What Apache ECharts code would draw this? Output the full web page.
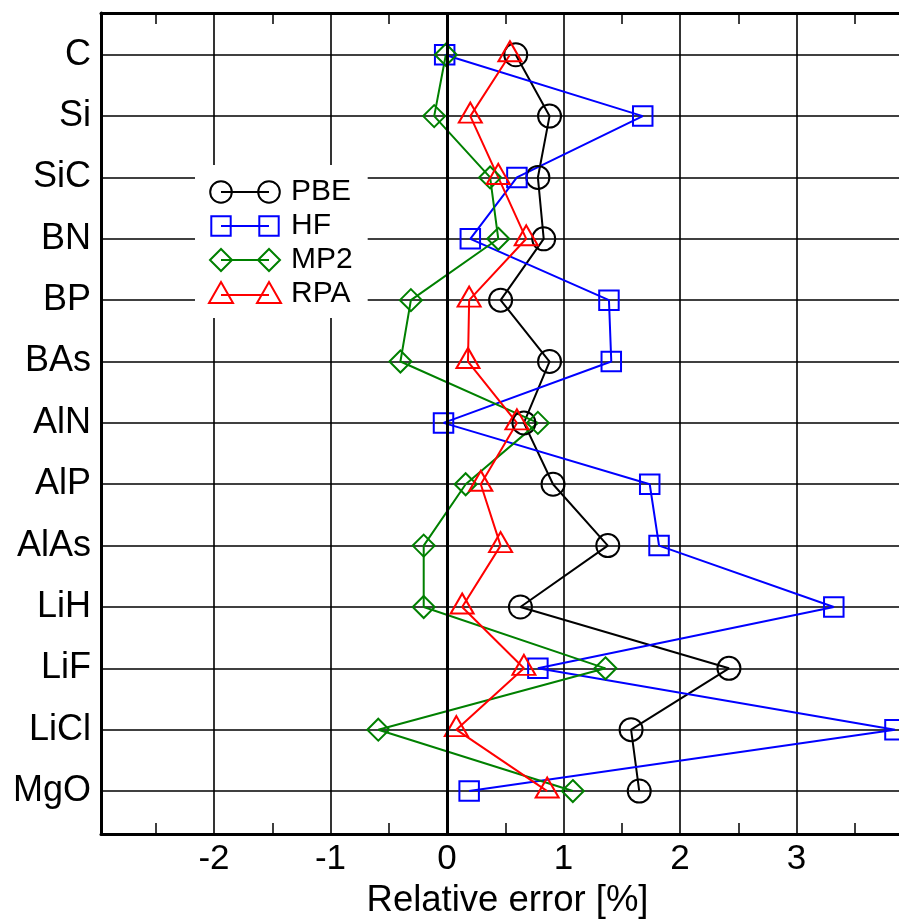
<!DOCTYPE html>
<html><head><meta charset="utf-8">
<script src="https://cdn.jsdelivr.net/npm/echarts@6/dist/echarts.min.js"></script>
<style>html,body{margin:0;padding:0;background:#fff}#c{width:899px;height:921px}</style>
</head><body><div id="c"></div>
<script>
// ---- data ----
const materials = ['C','Si','SiC','BN','BP','BAs','AlN','AlP','AlAs','LiH','LiF','LiCl','MgO'];
const pbe = [0.59, 0.88, 0.78, 0.83, 0.46, 0.88, 0.66, 0.91, 1.38, 0.63, 2.42, 1.58, 1.65];
const hf  = [-0.02, 1.68, 0.60, 0.20, 1.39, 1.41, -0.03, 1.74, 1.82, 3.32, 0.78, 3.845, 0.19];
const mp2 = [-0.01, -0.11, 0.37, 0.44, -0.31, -0.40, 0.78, 0.16, -0.20, -0.20, 1.36, -0.59, 1.08];
const rpa = [0.54, 0.20, 0.44, 0.68, 0.19, 0.18, 0.60, 0.29, 0.46, 0.13, 0.66, 0.08, 0.86];
const xTickLabels = [-2, -1, 0, 1, 2, 3];
const xMinorTicks = [-2.5, -1.5, -0.5, 0.5, 1.5, 2.5, 3.5];
const seriesNames = ['PBE', 'HF', 'MP2', 'RPA'];
// ---------------

const FONT = '"Liberation Sans", Arial, Helvetica, sans-serif';
const rowIdx = materials.map((_, i) => i);
const XMIN = -2.97, XMAX = 3.914;

function mk(name, vals, color, symbol, size, offset) {
  return {
    name: name, type: 'line',
    data: vals.map((v, i) => [v, i]),
    symbol: symbol, symbolSize: size, symbolOffset: offset || [0, 0],
    showAllSymbol: true,
    lineStyle: { color: color, width: 2 },
    itemStyle: { color: 'rgba(0,0,0,0)', borderColor: color, borderWidth: 2 },
    emphasis: { disabled: true },
    silent: true
  };
}

const anchor = 'M0,0L0,0M77,24L77,24 ';
const icons = {
  PBE: 'path://' + anchor + 'M1.2,12A10.8,10.8 0 1,1 22.8,12A10.8,10.8 0 1,1 1.2,12Z M49.2,12A10.8,10.8 0 1,1 70.8,12A10.8,10.8 0 1,1 49.2,12Z M12,12L60,12',
  HF: 'path://' + anchor + 'M2.3,2.3L21.7,2.3L21.7,21.7L2.3,21.7Z M50.3,2.3L69.7,2.3L69.7,21.7L50.3,21.7Z M12,12L60,12',
  MP2: 'path://' + anchor + 'M1,12L12,1L23,12L12,23Z M49,12L60,1L71,12L60,23Z M12,12L60,12',
  RPA: 'path://' + anchor + 'M12,0L24,21L0,21Z M60,0L72,21L48,21Z M12,13L60,13'
};
const colors = { PBE: '#000000', HF: '#0000ff', MP2: '#008000', RPA: '#ff0000' };

const pbeS = mk(seriesNames[0], pbe, colors.PBE, 'circle', 23);
pbeS.markLine = {
  silent: true, symbol: ['none', 'none'], label: { show: false },
  lineStyle: { color: '#000', width: 3, type: 'solid' },
  data: [{ xAxis: 0 }]
};

const chart = echarts.init(document.getElementById('c'), null, { renderer: 'canvas' });
chart.setOption({
  animation: false,
  backgroundColor: '#fff',
  grid: { left: 101, top: 13, width: 802, height: 821, containLabel: false, outerBoundsMode: 'none' },
  legend: {
    orient: 'vertical', left: 195, top: 165, padding: [12, 15, 9, 13],
    itemGap: 4, itemWidth: 77, itemHeight: 24,
    backgroundColor: '#fff', selectedMode: false,
    textStyle: { fontSize: 30, color: '#000', fontFamily: FONT },
    data: seriesNames.map(n => ({
      name: n, icon: icons[n],
      itemStyle: { color: 'rgba(0,0,0,0)', borderColor: colors[n], borderWidth: 2 }
    }))
  },
  xAxis: [
    {
      type: 'value', position: 'bottom', min: XMIN, max: XMAX,
      axisLine: { show: true, onZero: false, lineStyle: { color: '#000', width: 3 } },
      axisTick: { show: true, inside: true, length: 11, customValues: xMinorTicks, lineStyle: { color: '#000', width: 1.5 } },
      axisLabel: { customValues: xTickLabels, fontSize: 35, color: '#000', fontFamily: FONT, margin: 8 },
      splitLine: { show: false },
      name: 'Relative error [%]', nameLocation: 'middle', nameGap: 48,
      nameTextStyle: { fontSize: 36.5, color: '#000', fontFamily: FONT, padding: [0, 0, 0, 11] }
    },
    {
      type: 'value', position: 'top', min: XMIN, max: XMAX,
      axisLine: { show: true, onZero: false, lineStyle: { color: '#000', width: 3 } },
      axisTick: { show: true, inside: true, length: 11, customValues: xMinorTicks, lineStyle: { color: '#000', width: 1.5 } },
      axisLabel: { show: false },
      splitLine: { show: false }
    },
    {
      type: 'value', position: 'bottom', min: XMIN, max: XMAX,
      axisLine: { show: false },
      axisTick: { show: false, customValues: xTickLabels },
      axisLabel: { show: false },
      splitLine: { show: true, lineStyle: { color: '#000', width: 1.6 } }
    }
  ],
  yAxis: [
    {
      type: 'value', inverse: true, min: -0.68, max: 12.70, position: 'left',
      axisLine: { show: true, onZero: false, lineStyle: { color: '#000', width: 3 } },
      axisTick: { show: false, customValues: rowIdx },
      axisLabel: {
        customValues: rowIdx, formatter: v => materials[Math.round(v)],
        fontSize: 36, color: '#000', fontFamily: FONT, margin: 10
      },
      splitLine: { show: true, lineStyle: { color: '#000', width: 1.6 } }
    }
  ],
  series: [
    pbeS,
    mk(seriesNames[1], hf, colors.HF, 'rect', 19.5),
    mk(seriesNames[2], mp2, colors.MP2, 'diamond', 22),
    mk(seriesNames[3], rpa, colors.RPA, 'triangle', [23, 20], [0, -3.5])
  ]
});
</script>
</body></html>
